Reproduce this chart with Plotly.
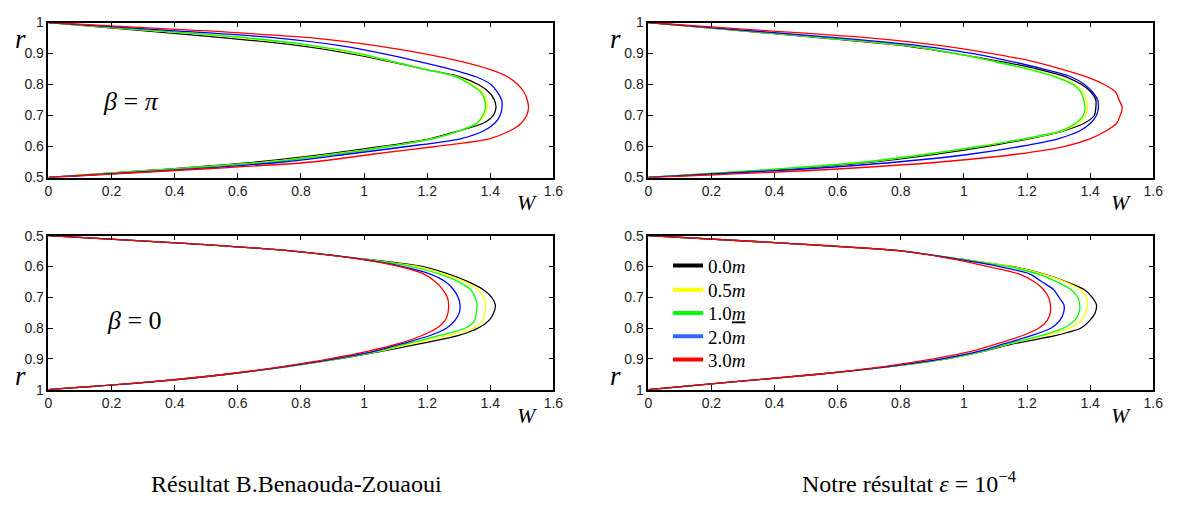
import plotly.graph_objects as go

# radial positions (common grid)
r = [0.5, 0.525, 0.55, 0.575, 0.6, 0.625, 0.65, 0.675, 0.7, 0.725, 0.75,
     0.775, 0.8, 0.825, 0.85, 0.875, 0.9, 0.925, 0.95, 0.975, 1.0]

series_names = ["0.0<i>m</i>", "0.5<i>m</i>", "1.0<u><i>m</i></u>", "2.0<i>m</i>", "3.0<i>m</i>"]
series_colors = ["#000000", "#FFFF00", "#00FF00", "#0000FF", "#FF0000"]
legend_colors = ["#000000", "#FFFF00", "#00FF00", "#3366FF", "#FF0000"]

# Top-left: beta = pi, B.Benaouda-Zouaoui
tl_black = [0, 0.346, 0.659, 0.878, 1.053, 1.209, 1.298, 1.377, 1.409, 1.418, 1.413, 1.396, 1.362, 1.304, 1.189, 1.078, 0.955, 0.80, 0.567, 0.288, 0]
tl_yellow = [0, 0.357, 0.69, 0.90, 1.072, 1.215, 1.300, 1.360, 1.381, 1.390, 1.387, 1.375, 1.342, 1.296, 1.19, 1.085, 0.975, 0.83, 0.62, 0.315, 0]
tl_green = [0, 0.367, 0.705, 0.910, 1.079, 1.218, 1.300, 1.357, 1.376, 1.385, 1.382, 1.370, 1.337, 1.292, 1.190, 1.090, 0.986, 0.841, 0.636, 0.327, 0]
tl_blue = [0, 0.417, 0.745, 0.945, 1.136, 1.305, 1.378, 1.414, 1.431, 1.437, 1.436, 1.423, 1.402, 1.355, 1.272, 1.171, 1.060, 0.928, 0.727, 0.378, 0]
tl_red = [0, 0.446, 0.835, 1.025, 1.227, 1.397, 1.461, 1.498, 1.515, 1.521, 1.517, 1.507, 1.487, 1.455, 1.396, 1.306, 1.188, 1.042, 0.843, 0.465, 0]

# Bottom-left: beta = 0, B.Benaouda-Zouaoui
bl_black = [0, 0.432, 0.775, 0.99, 1.183, 1.268, 1.331, 1.377, 1.404, 1.416, 1.411, 1.396, 1.362, 1.297, 1.183, 1.058, 0.92, 0.758, 0.565, 0.327, 0]
bl_yellow = [0, 0.432, 0.775, 0.988, 1.169, 1.255, 1.320, 1.360, 1.379, 1.385, 1.382, 1.376, 1.348, 1.264, 1.155, 1.049, 0.915, 0.755, 0.565, 0.327, 0]
bl_green = [0, 0.432, 0.775, 0.985, 1.148, 1.240, 1.300, 1.337, 1.352, 1.358, 1.356, 1.350, 1.322, 1.236, 1.140, 1.044, 0.915, 0.755, 0.565, 0.327, 0]
bl_blue = [0, 0.432, 0.775, 0.982, 1.12, 1.210, 1.258, 1.283, 1.298, 1.304, 1.302, 1.288, 1.262, 1.207, 1.123, 1.034, 0.905, 0.75, 0.565, 0.327, 0]
bl_red = [0, 0.432, 0.775, 0.975, 1.11, 1.19, 1.226, 1.249, 1.264, 1.268, 1.266, 1.257, 1.231, 1.182, 1.111, 1.014, 0.89, 0.74, 0.56, 0.32, 0]

# Top-right: beta = pi, our result
tr_black = [0, 0.406, 0.709, 0.908, 1.070, 1.205, 1.314, 1.381, 1.413, 1.418, 1.418, 1.403, 1.373, 1.323, 1.233, 1.114, 0.974, 0.813, 0.556, 0.278, 0]
tr_yellow = [0, 0.38, 0.69, 0.885, 1.05, 1.195, 1.31, 1.362, 1.386, 1.392, 1.388, 1.378, 1.352, 1.295, 1.208, 1.098, 0.978, 0.826, 0.572, 0.285, 0]
tr_green = [0, 0.376, 0.684, 0.879, 1.046, 1.189, 1.304, 1.354, 1.378, 1.384, 1.380, 1.371, 1.346, 1.289, 1.203, 1.093, 0.976, 0.829, 0.578, 0.289, 0]
tr_blue = [0, 0.455, 0.789, 1.019, 1.178, 1.298, 1.366, 1.401, 1.420, 1.426, 1.424, 1.408, 1.382, 1.339, 1.252, 1.148, 1.029, 0.864, 0.613, 0.307, 0]
tr_red = [0, 0.556, 0.925, 1.165, 1.317, 1.399, 1.450, 1.484, 1.495, 1.502, 1.492, 1.481, 1.445, 1.389, 1.309, 1.218, 1.089, 0.933, 0.707, 0.358, 0]

# Bottom-right: beta = 0, our result
br_black = [0, 0.442, 0.807, 0.979, 1.152, 1.254, 1.325, 1.381, 1.406, 1.420, 1.416, 1.399, 1.371, 1.289, 1.162, 1.065, 0.945, 0.765, 0.537, 0.268, 0]
br_yellow = [0, 0.442, 0.807, 0.979, 1.148, 1.251, 1.321, 1.368, 1.388, 1.392, 1.386, 1.372, 1.335, 1.253, 1.15, 1.062, 0.942, 0.765, 0.537, 0.268, 0]
br_green = [0, 0.442, 0.807, 0.977, 1.138, 1.236, 1.295, 1.339, 1.361, 1.367, 1.365, 1.351, 1.317, 1.243, 1.145, 1.059, 0.94, 0.765, 0.537, 0.268, 0]
br_blue = [0, 0.442, 0.806, 0.97, 1.11, 1.21, 1.247, 1.284, 1.301, 1.317, 1.316, 1.304, 1.277, 1.213, 1.131, 1.049, 0.93, 0.76, 0.537, 0.268, 0]
br_red = [0, 0.442, 0.805, 0.958, 1.073, 1.176, 1.223, 1.252, 1.268, 1.274, 1.274, 1.264, 1.238, 1.184, 1.109, 1.026, 0.903, 0.746, 0.537, 0.268, 0]

x_ticks = [0, 0.2, 0.4, 0.6, 0.8, 1.0, 1.2, 1.4, 1.6]
x_ticklabels = ["0", "0.2", "0.4", "0.6", "0.8", "1", "1.2", "1.4", "1.6"]
y_ticks = [0.5, 0.6, 0.7, 0.8, 0.9, 1.0]
y_ticklabels = ["0.5", "0.6", "0.7", "0.8", "0.9", "1"]

W_ = 1185
H_ = 510

panels = [
    ("x", "y", [tl_black, tl_yellow, tl_green, tl_blue, tl_red]),
    ("x2", "y2", [tr_black, tr_yellow, tr_green, tr_blue, tr_red]),
    ("x3", "y3", [bl_black, bl_yellow, bl_green, bl_blue, bl_red]),
    ("x4", "y4", [br_black, br_yellow, br_green, br_blue, br_red]),
]

fig = go.Figure()
for xa, ya, curves in panels:
    for vals, col, name in zip(curves, series_colors, series_names):
        fig.add_trace(go.Scatter(x=vals, y=r, mode="lines", xaxis=xa, yaxis=ya,
                                 line=dict(color=col, width=1.3, shape="spline", smoothing=0.7),
                                 name=name, showlegend=False, hoverinfo="skip"))


def px_x(p):
    return p / W_


def px_y(p):
    return 1 - p / H_


serif = "Liberation Serif, Times New Roman, serif"

# legend entries (one small legend per entry, placed inside the bottom-right panel)
legend_rows = [266, 291, 315, 339, 363]
legend_layout = {}
for i, (col, name, yrow) in enumerate(zip(legend_colors, series_names, legend_rows)):
    key = "legend" if i == 0 else "legend%d" % (i + 1)
    fig.add_trace(go.Scatter(x=[None], y=[None], mode="lines", xaxis="x4", yaxis="y4",
                             line=dict(color=col, width=4), name=name, showlegend=True,
                             legend=key))
    legend_layout[key] = dict(x=px_x(672), y=px_y(yrow), xanchor="left", yanchor="middle",
                              bgcolor="rgba(0,0,0,0)", borderwidth=0,
                              font=dict(family=serif, size=19, color="#000"),
                              itemwidth=30)

xl = [px_x(45), px_x(556)]
xr = [px_x(652), px_x(1163)]
yt = [px_y(175), px_y(15)]
yb = [px_y(394), px_y(235)]

tickfont = dict(family="Liberation Sans, Arial", size=14, color="#222")


def xax(dom, anchor):
    return dict(domain=dom, anchor=anchor, range=[0, 1.6], tickmode="array",
                tickvals=x_ticks, ticktext=x_ticklabels, ticks="inside", ticklen=5,
                tickwidth=1, tickcolor="#000", showline=True, linecolor="#000",
                linewidth=1.5, mirror="ticks", showgrid=False, zeroline=False,
                tickfont=tickfont, fixedrange=True)


def yax(dom, anchor, rng):
    return dict(domain=dom, anchor=anchor, range=rng, tickmode="array",
                tickvals=y_ticks, ticktext=y_ticklabels, ticks="inside", ticklen=5,
                tickwidth=1, tickcolor="#000", showline=True, linecolor="#000",
                linewidth=1.5, mirror="ticks", showgrid=False, zeroline=False,
                tickfont=tickfont, fixedrange=True)


annotations = []


def ann(text, x, y, size, xanchor="center", yanchor="middle"):
    annotations.append(dict(text=text, x=px_x(x), y=px_y(y), xref="paper", yref="paper",
                            showarrow=False, font=dict(family=serif, size=size, color="#000"),
                            xanchor=xanchor, yanchor=yanchor))


ann("<i>r</i>", 17, 32, 27)
ann("<i>r</i>", 17, 380, 27)
ann("<i>r</i>", 619, 32, 27)
ann("<i>r</i>", 619, 380, 27)
ann("<i>W</i>", 529, 201, 22)
ann("<i>W</i>", 1130, 201, 22)
ann("<i>W</i>", 529, 421, 22)
ann("<i>W</i>", 1130, 421, 22)
ann("<i>β</i> = <i>π</i>", 129, 97, 26)
ann("<i>β</i> = 0", 132, 323, 26)
ann("Résultat B.Benaouda-Zouaoui", 296, 491, 24)
ann("Notre résultat <i>ε</i> = 10<sup>−4</sup>", 916, 489, 24)

layout = dict(
    width=W_, height=H_, margin=dict(l=0, r=0, t=0, b=0),
    paper_bgcolor="white", plot_bgcolor="white",
    xaxis=xax(xl, "y"), yaxis=yax(yt, "x", [0.5, 1.0]),
    xaxis2=xax(xr, "y2"), yaxis2=yax(yt, "x2", [0.5, 1.0]),
    xaxis3=xax(xl, "y3"), yaxis3=yax(yb, "x3", [1.0, 0.5]),
    xaxis4=xax(xr, "y4"), yaxis4=yax(yb, "x4", [1.0, 0.5]),
    annotations=annotations,
    showlegend=True,
)
layout.update(legend_layout)
fig.update_layout(**layout)

fig.write_html("out.html")
